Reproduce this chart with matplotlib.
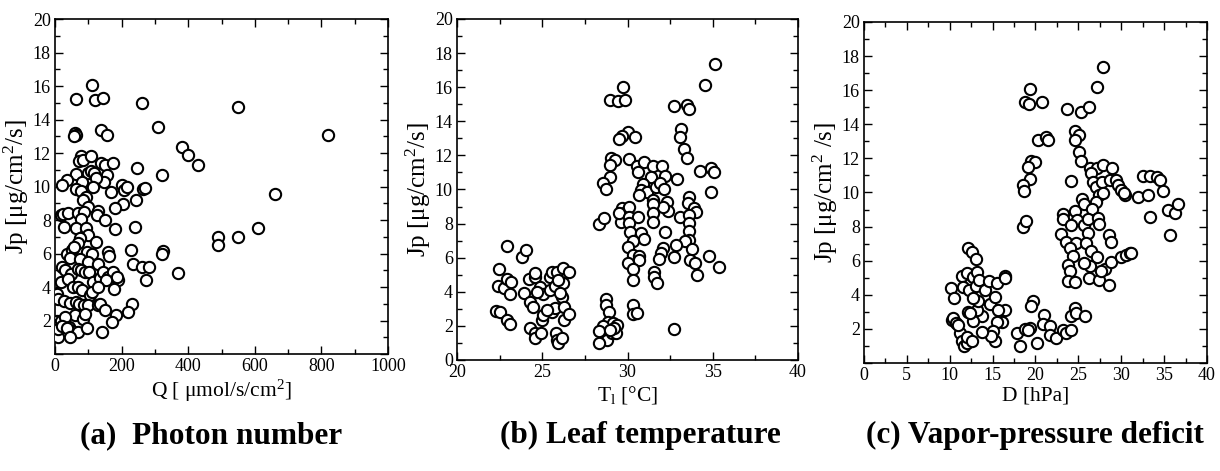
import matplotlib
matplotlib.use('Agg')
import matplotlib.pyplot as plt
from matplotlib.ticker import MultipleLocator

plt.rcParams['font.family'] = ['Liberation Serif', 'DejaVu Serif']
plt.rcParams['mathtext.fontset'] = 'custom'
plt.rcParams['mathtext.rm'] = 'Liberation Serif'
plt.rcParams['mathtext.it'] = 'Liberation Serif:italic'

# (a) Jp vs photon number Q
q_x = [110, 63, 120, 143, 262, 550, 310, 137, 60, 63, 58, 157, 820, 382, 400, 430,
       78, 71, 85, 108, 138, 150, 175, 245, 322, 64, 100, 108, 118, 155, 148, 123,
       35, 22, 80, 63, 78, 115, 168, 200, 208, 215, 265, 270, 660, 92, 85, 243,
       205, 180, 100, 18, 25, 40, 70, 88, 130, 125, 150, 78, 28, 63, 92, 100,
       180, 240, 490, 490, 550, 610, 75, 70, 122, 228, 325, 320, 158, 163, 35, 50,
       58, 95, 110, 45, 75, 98, 128, 235, 262, 283, 273, 370, 20, 30, 48, 68,
       78, 90, 103, 113, 135, 145, 160, 175, 188, 185, 178, 152, 18, 40, 55, 68,
       80, 105, 110, 130, 5, 10, 28, 45, 62, 72, 88, 100, 128, 135, 232, 218,
       150, 182, 170, 60, 83, 90, 5, 12, 18, 30, 42, 52, 68, 8, 10, 20,
       35, 45, 95, 140]
q_y = [16.05, 15.25, 15.15, 15.3, 15.0, 14.75, 13.55, 13.4, 13.2, 13.1, 13.0, 13.05, 13.05, 12.35, 11.9, 11.3,
       11.85, 11.5, 11.6, 11.8, 11.4, 11.3, 11.4, 11.1, 10.7, 10.75, 10.8, 10.9, 10.8, 10.7, 10.3, 10.5,
       10.4, 10.1, 10.3, 9.85, 9.75, 10.0, 9.65, 10.1, 9.8, 9.95, 9.85, 9.9, 9.55, 9.4, 9.2, 9.2,
       8.95, 8.7, 8.8, 8.3, 8.35, 8.45, 8.4, 8.5, 8.55, 8.3, 8.0, 8.05, 7.6, 7.5, 7.5, 7.1,
       7.45, 7.6, 7.0, 6.5, 7.0, 7.5, 6.9, 6.6, 6.7, 6.2, 6.15, 5.95, 6.1, 5.85, 6.0, 6.2,
       6.4, 6.1, 6.0, 5.75, 5.7, 5.5, 5.4, 5.4, 5.2, 5.2, 4.4, 4.85, 5.2, 5.0, 4.75, 5.1,
       5.0, 4.9, 4.9, 4.3, 4.55, 4.9, 4.6, 4.9, 4.4, 4.6, 3.9, 4.4, 4.3, 4.5, 4.0, 4.0,
       3.8, 3.55, 3.7, 4.0, 3.6, 3.3, 3.15, 3.05, 3.1, 3.0, 2.9, 2.95, 2.9, 3.0, 3.0, 2.5,
       2.6, 2.35, 1.9, 2.3, 2.1, 2.4, 2.0, 1.8, 2.0, 2.2, 1.6, 1.4, 1.3, 1.0, 1.5, 1.7,
       1.55, 1.0, 1.55, 1.3]

# (b) Jp vs leaf temperature Tl
t_x = [35.12, 34.56, 29.72, 29.0, 29.42, 29.85, 32.7, 33.48, 33.6, 33.15, 33.1, 30.03, 29.68, 29.5, 30.42,
       33.29, 33.48, 29.05, 29.29, 28.98, 30.09, 30.57, 30.98, 31.51, 32.04, 34.24, 34.87, 35.06, 29.0,
       30.6, 31.4, 32.2, 32.88, 28.59, 28.72, 30.93, 30.79, 31.16, 30.65, 31.7, 31.9, 32.14, 32.29, 31.51,
       34.88, 33.62, 33.55, 33.91, 34.01, 32.39, 32.1, 29.7, 29.81, 29.64, 29.52, 30.09, 30.11, 30.63,
       31.51, 31.51, 31.51, 28.31, 28.62, 33.09, 33.62, 33.62, 33.62, 33.62, 33.37, 33.76, 33.66, 33.95,
       34.1, 32.18, 30.11, 30.15, 30.77, 30.98, 30.3, 30.0, 30.34, 30.67, 30.67, 30.01, 30.3, 30.3,
       32.06, 31.95, 31.86, 32.82, 32.72, 34.8, 35.34, 31.53, 31.57, 31.74, 30.3, 30.3, 30.54, 32.72,
       28.72, 28.74, 28.94, 28.88, 29.13, 29.37, 28.59, 28.35, 28.78, 28.31, 29.11, 29.3, 29.23, 28.98,
       22.44, 22.93, 23.8, 24.04, 22.38, 22.73, 22.93, 23.16, 23.12, 22.3, 22.54, 22.93, 23.09, 23.9,
       24.2, 24.29, 24.45, 24.55, 24.55, 24.29, 24.56, 24.56, 24.92, 24.98, 25.07, 24.88, 25.07, 24.68,
       25.46, 25.56, 25.85, 25.46, 25.76, 25.56, 25.76, 25.27, 25.81, 25.85, 25.95, 26.15, 26.24, 26.54,
       26.24, 26.15, 26.28, 26.28, 26.54, 26.02, 25.95]
t_y = [17.34, 16.1, 16.03, 15.25, 15.2, 15.25, 14.9, 14.96, 14.7, 13.57, 13.06, 13.4, 13.14, 12.94, 13.06,
       12.36, 11.85, 11.83, 11.73, 11.44, 11.8, 11.38, 11.6, 11.38, 11.4, 11.1, 11.24, 11.0, 10.75,
       11.05, 10.75, 10.8, 10.6, 10.36, 10.03, 10.32, 9.97, 9.87, 9.68, 10.17, 10.36, 10.0, 9.29, 9.38,
       9.83, 9.58, 9.19, 8.93, 8.66, 8.76, 9.0, 8.9, 8.64, 8.11, 8.6, 8.95, 8.37, 8.41,
       9.13, 8.6, 8.11, 7.96, 8.33, 8.41, 8.5, 8.05, 7.57, 7.04, 6.98, 6.49, 5.87, 5.67,
       4.97, 7.49, 8.05, 7.53, 7.47, 7.08, 7.0, 6.61, 6.16, 6.1, 5.87, 5.67, 5.32, 4.69,
       6.55, 6.26, 5.92, 6.74, 6.06, 6.1, 5.47, 5.18, 4.89, 4.5, 3.22, 2.7, 2.78, 1.82,
       3.58, 3.23, 2.8, 2.25, 2.19, 2.05, 1.99, 1.7, 1.17, 1.02, 1.6, 1.56, 1.86, 1.76,
       5.34, 6.69, 6.06, 6.45, 4.34, 4.24, 4.73, 4.59, 3.87, 2.89, 2.83, 2.35, 2.11, 3.95,
       4.73, 3.42, 3.13, 4.89, 5.12, 1.86, 1.56, 1.27, 1.56, 2.35, 2.64, 4.3, 3.87, 4.0,
       4.89, 5.18, 5.18, 4.1, 4.34, 2.83, 3.03, 2.93, 1.56, 1.17, 1.02, 1.27, 5.38, 5.18,
       4.54, 3.71, 3.13, 2.35, 2.68, 3.91, 4.69]

# (c) Jp vs vapor-pressure deficit D
d_x = [27.88, 27.18, 19.34, 18.76, 19.22, 20.78, 23.73, 25.36, 26.25, 24.66, 25.05, 24.62, 20.31, 21.2, 21.48,
       25.09, 25.36, 19.53, 19.95, 19.18, 24.1, 19.34, 18.56, 18.68, 26.33, 27.18, 27.88, 28.97, 26.52,
       26.72, 27.03, 27.76, 28.65, 29.42, 29.62, 30.0, 30.39, 30.3, 32.58, 33.32, 34.21, 34.49, 34.87,
       31.96, 33.13, 27.42, 27.03, 27.88, 25.44, 25.67, 26.64, 24.66, 24.9, 25.63, 26.13, 27.3, 27.42,
       23.26, 23.22, 24.12, 35.46, 36.23, 36.62, 33.4, 35.69, 18.56, 18.87, 23.03, 23.61, 24.78, 24.0,
       24.39, 26.17, 25.85, 26.52, 27.18, 26.4, 28.58, 28.85, 23.81, 24.0, 23.81, 24.66, 25.63, 26.25,
       27.42, 28.54, 28.16, 28.85, 30.0, 30.6, 30.98, 31.17, 27.69,
       10.14, 10.53, 11.38, 11.96, 12.16, 12.55, 13.01, 11.57, 12.27, 12.74, 13.2, 13.05, 13.44, 14.1,
       14.59, 14.68, 15.26, 15.46, 16.43, 16.5, 16.43, 15.65, 16.15, 15.46, 14.99, 15.3, 14.87, 13.79,
       13.79, 12.74, 13.13, 13.32, 12.66, 12.12, 12.35, 10.29, 10.41, 10.68, 11.17, 11.38, 11.65, 11.96,
       11.96, 12.62, 10.95,
       17.86, 18.17, 18.76, 19.34, 19.15, 19.73, 19.53, 20.97, 20.89, 20.12, 21.67, 21.75, 22.37, 23.22,
       23.53, 24.19, 24.19, 24.66, 24.78, 25.75]
d_y = [17.37, 16.16, 16.06, 15.32, 15.18, 15.28, 14.91, 14.73, 15.02, 13.6, 13.37, 13.07, 13.07, 13.23, 13.07,
       12.35, 11.86, 11.84, 11.77, 11.51, 10.69, 10.77, 10.44, 10.11, 11.41, 11.45, 11.61, 11.41, 11.12,
       10.63, 10.34, 10.63, 10.73, 10.73, 10.44, 10.15, 9.85, 9.99, 10.99, 10.97, 10.93, 10.73, 10.09,
       9.72, 9.85, 9.85, 9.46, 9.95, 9.6, 9.33, 9.01, 8.94, 8.39, 8.08, 8.47, 8.49, 8.16,
       8.74, 8.47, 8.1, 8.98, 8.78, 9.33, 8.59, 7.53, 7.96, 8.35, 7.55, 7.12, 7.02, 6.73,
       6.28, 7.61, 7.02, 6.54, 6.19, 5.66, 7.51, 7.12, 5.76, 5.37, 4.78, 4.74, 5.85, 5.01,
       4.88, 4.57, 5.5, 5.91, 6.24, 6.34, 6.44, 6.48, 5.42,
       4.39, 3.8, 5.11, 5.27, 6.73, 6.5, 6.09, 4.45, 4.29, 5.07, 5.33, 4.53, 4.84, 4.29,
       4.78, 3.47, 3.9, 4.72, 5.11, 4.98, 3.12, 3.12, 2.38, 2.38, 1.85, 1.27, 1.56, 1.8,
       2.73, 2.44, 3.12, 3.61, 3.8, 2.97, 2.93, 2.54, 2.63, 2.34, 1.76, 1.27, 0.98, 1.17,
       1.52, 1.27, 2.24,
       1.76, 0.98, 1.99, 2.05, 1.95, 3.61, 3.32, 2.83, 2.28, 1.17, 2.19, 1.66, 1.46, 1.95,
       1.76, 1.95, 2.73, 3.22, 2.93, 2.77]

yticks = [0, 2, 4, 6, 8, 10, 12, 14, 16, 18, 20]

fig = plt.figure(figsize=(12.2, 4.71), dpi=100)

def style(ax, xmin, xmax, xmaj, xmin_step, show_y0):
    ax.set_xlim(xmin, xmax)
    ax.set_ylim(0, 20)
    ax.xaxis.set_major_locator(MultipleLocator(xmaj))
    ax.xaxis.set_minor_locator(MultipleLocator(xmin_step))
    ax.set_yticks(yticks)
    ax.set_yticklabels([str(v) if (v != 0 or show_y0) else '' for v in yticks])
    ax.yaxis.set_minor_locator(MultipleLocator(1))
    ax.tick_params(which='both', direction='in', top=True, right=True,
                   labelsize=13, width=1.0, pad=3)
    ax.tick_params(which='major', length=6)
    ax.tick_params(which='minor', length=3.5)
    for s in ax.spines.values():
        s.set_linewidth(1.2)

mk = dict(s=66, facecolors='white', edgecolors='black', linewidths=1.5, zorder=3)

ax1 = fig.add_axes([0.0451, 0.2484, 0.273, 0.711])
ax1.scatter(q_x, q_y, **mk)
style(ax1, 0, 1000, 200, 100, False)
ax1.set_xlabel('Q [ μmol/s/cm$^2$]', fontsize=15.5, labelpad=2)
ax1.set_ylabel('Jp [μg/cm$^2$/s]', fontsize=18, labelpad=1)

ax2 = fig.add_axes([0.3746, 0.2357, 0.2795, 0.724])
ax2.scatter(t_x, t_y, **mk)
style(ax2, 20, 40, 5, 2.5, True)
ax2.set_xlabel('T$_{\\rm l}$ [°C]', fontsize=15.5, labelpad=2)
ax2.set_ylabel('Jp [μg/cm$^{2}$/s]', fontsize=18, labelpad=1)

ax3 = fig.add_axes([0.7082, 0.2293, 0.2811, 0.724])
ax3.scatter(d_x, d_y, **mk)
style(ax3, 0, 40, 5, 2.5, False)
ax3.set_xlabel('D [hPa]', fontsize=15.5, labelpad=2)
ax3.set_ylabel('Jp [μg/cm$^{2}$ /s]', fontsize=18, labelpad=1)

fig.text(0.173, 0.075, '(a)  Photon number', ha='center', va='center',
         fontsize=22.5, fontweight='bold')
fig.text(0.525, 0.075, '(b) Leaf temperature', ha='center', va='center',
         fontsize=22.5, fontweight='bold')
fig.text(0.848, 0.075, '(c) Vapor-pressure deficit', ha='center', va='center',
         fontsize=22.5, fontweight='bold')

fig.savefig('out.png', dpi=100)
